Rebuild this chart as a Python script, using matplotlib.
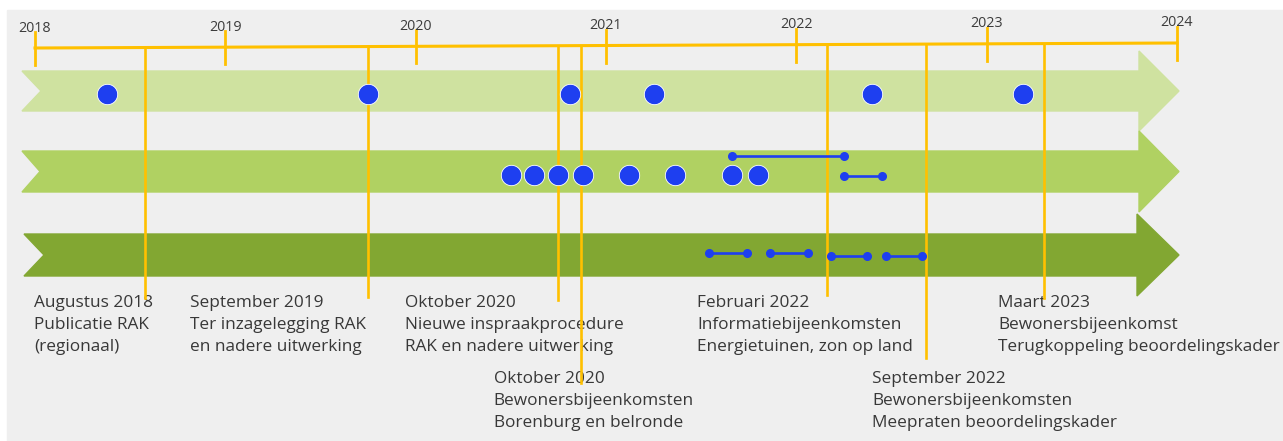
import matplotlib.pyplot as plt
from matplotlib.patches import Polygon, Rectangle

# data (x values in decimal years)
years = [2018, 2019, 2020, 2021, 2022, 2023, 2024]

row1_dots = [2018.38, 2019.75, 2020.81, 2021.25, 2022.40, 2023.19]
row2_dots = [2020.50, 2020.62, 2020.75, 2020.88, 2021.12, 2021.36, 2021.66, 2021.80]
row2_ranges = [(2021.66, 2022.25), (2022.25, 2022.45)]
row2_range_y = [156, 176]
row3_ranges = [(2021.54, 2021.74), (2021.86, 2022.06), (2022.18, 2022.37), (2022.47, 2022.66)]
row3_range_y = [253, 253, 256, 256]

event_dates = [2018.58, 2019.75, 2020.75, 2020.87, 2022.16, 2022.68, 2023.30]
event_ends = [298, 297, 300, 383, 295, 358, 298]

label_x = [2017.995, 2018.814, 2019.944, 2020.41, 2021.478, 2022.398, 2023.06]
label_y = [303, 303, 303, 379, 303, 379, 303]
labels = [
    ["Augustus 2018", "Publicatie RAK", "(regionaal)"],
    ["September 2019", "Ter inzagelegging RAK", "en nadere uitwerking"],
    ["Oktober 2020", "Nieuwe inspraakprocedure", "RAK en nadere uitwerking"],
    ["Oktober 2020", "Bewonersbijeenkomsten", "Borenburg en belronde"],
    ["Februari 2022", "Informatiebijeenkomsten", "Energietuinen, zon op land"],
    ["September 2022", "Bewonersbijeenkomsten", "Meepraten beoordelingskader"],
    ["Maart 2023", "Bewonersbijeenkomst", "Terugkoppeling beoordelingskader"],
]

# layout helpers
PX_YEAR = 190.33
X0 = 35


def px(x):
    return 2018 + (x - X0) / PX_YEAR


def timeline_y(t):
    return 48 - 5 * (t - 2018) / 6


ORANGE = "#FFC000"
BLUE = "#1E3FF0"
TEXT = "#383838"
lanes = [(71, 111, "#CFE2A0", 22, 41, 1139), (151, 192, "#B0D162", 22, 40, 1139),
         (234, 276, "#82A732", 24, 44, 1137)]

plt.rcParams["font.family"] = ["Open Sans", "DejaVu Sans"]
fig = plt.figure(figsize=(12.83, 4.41), dpi=100)
ax = fig.add_axes([0, 0, 1, 1])
ax.set_xlim(px(0), px(1283))
ax.set_ylim(441, 0)
ax.axis("off")

# grey panel
ax.add_patch(Rectangle((px(7), 10), px(1283) - px(7), 431, color="#EFEFEF", zorder=0))

# arrows
for top, bot, col, left, notch, right in lanes:
    mid = (top + bot) / 2
    pts = [(px(left), top), (px(right), top), (px(right), top - 20), (px(1179), mid),
           (px(right), bot + 20), (px(right), bot), (px(left), bot), (px(notch), mid)]
    ax.add_patch(Polygon(pts, closed=True, color=col, zorder=1))

# timeline + year ticks
ax.plot([2018, 2024], [timeline_y(2018), timeline_y(2024)], color=ORANGE, lw=2.2, zorder=3)
for y in years:
    ty = timeline_y(y)
    ax.plot([y, y], [ty - 16, ty + 17], color=ORANGE, lw=2, zorder=3)
    ax.text(y, ty - 20, str(y), ha="center", va="center", fontsize=10.3,
            color="#3C3C3C", zorder=4)

# event lines and labels
for d, end, lx, ly, lines in zip(event_dates, event_ends, label_x, label_y, labels):
    ax.plot([d, d], [timeline_y(d), end], color=ORANGE, lw=1.9, zorder=5)
    for i, s in enumerate(lines):
        ax.text(lx, ly + i * 22, s, ha="left", va="center", fontsize=12.4, color=TEXT, zorder=4)

# dots
lane1_mid = (lanes[0][0] + lanes[0][1]) / 2 + 3
lane2_mid = (lanes[1][0] + lanes[1][1]) / 2 + 3
ax.scatter(row1_dots, [lane1_mid] * len(row1_dots), s=215, color=BLUE,
           edgecolor="white", linewidth=0.6, zorder=6)
ax.scatter(row2_dots, [lane2_mid] * len(row2_dots), s=215, color=BLUE,
           edgecolor="white", linewidth=0.6, zorder=6)

# ranges
for (a, b), y in zip(row2_ranges + row3_ranges, row2_range_y + row3_range_y):
    ax.plot([a, b], [y, y], color=BLUE, lw=1.9, marker="o", markersize=5.5, zorder=6)

fig.savefig("out.png", dpi=100)
